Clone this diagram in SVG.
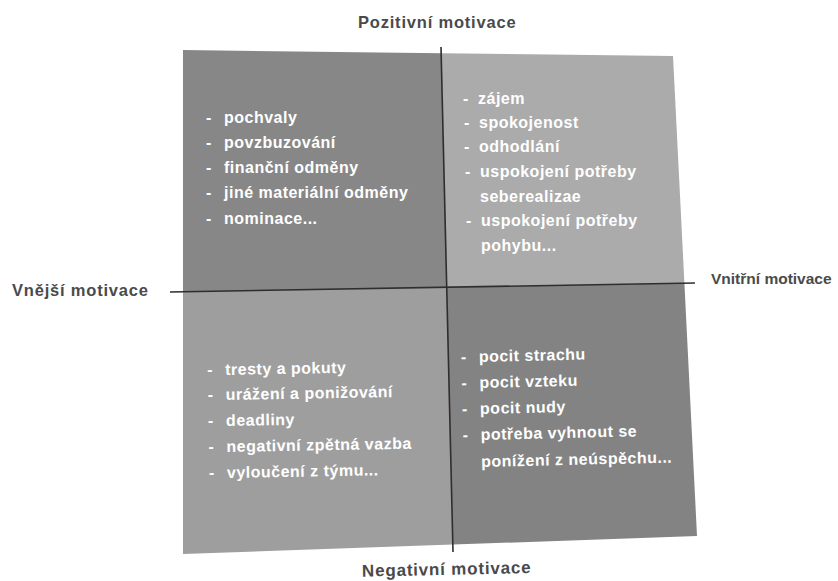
<svg xmlns="http://www.w3.org/2000/svg" width="838" height="581" viewBox="0 0 838 581">
<style>
.q{stroke:none}
.t{font-family:"Liberation Sans",Arial,sans-serif;font-weight:bold;font-size:16px;letter-spacing:0.5px;fill:#ffffff}
.lbl{font-family:"Liberation Sans",Arial,sans-serif;font-weight:bold;font-size:16.5px;letter-spacing:0.8px;fill:#4a4a4a}
.ax{stroke:#2e2e2e;stroke-width:1.6;fill:none}
</style>
<rect width="838" height="581" fill="#ffffff"/>
<g id="q-top-left">
<polygon class="q" fill="#878787" points="183,50 441.3,53.2 446.7,287.3 183,291.8"/>
<g class="t">
<text x="206" y="123">-</text><text x="224" y="123">pochvaly</text>
<text x="206" y="148">-</text><text x="224" y="148">povzbuzování</text>
<text x="206" y="173">-</text><text x="224" y="173">finanční odměny</text>
<text x="206" y="198">-</text><text x="224" y="198">jiné materiální odměny</text>
<text x="206" y="224">-</text><text x="224" y="224">nominace...</text>
</g>
</g>
<g id="q-top-right">
<polygon class="q" fill="#ababab" points="441.3,53.2 673,56 684.4,283.2 446.7,287.3"/>
<g class="t">
<text x="463" y="104">-</text><text x="478" y="104">zájem</text>
<text x="464" y="128">-</text><text x="479" y="128">spokojenost</text>
<text x="464" y="152">-</text><text x="479" y="152">odhodlání</text>
<text x="465" y="177">-</text><text x="480" y="177">uspokojení potřeby</text>
<text x="480" y="202">seberealizae</text>
<text x="466" y="226">-</text><text x="481" y="226">uspokojení potřeby</text>
<text x="481" y="251">pohybu...</text>
</g>
</g>
<g id="q-bottom-left">
<polygon class="q" fill="#9e9e9e" points="183,291.8 446.7,287.3 452.8,544.6 183,554"/>
<g class="t" transform="rotate(-1 226 420)">
<text x="208" y="375">-</text><text x="226" y="375">tresty a pokuty</text>
<text x="208" y="400">-</text><text x="226" y="400">urážení a ponižování</text>
<text x="208" y="426">-</text><text x="226" y="426">deadliny</text>
<text x="208" y="452">-</text><text x="226" y="452">negativní zpětná vazba</text>
<text x="208" y="478">-</text><text x="226" y="478">vyloučení z týmu...</text>
</g>
</g>
<g id="q-bottom-right">
<polygon class="q" fill="#838383" points="446.7,287.3 684.4,283.2 697,536 452.8,544.6"/>
<g class="t" transform="rotate(-1.3 480 410)">
<text x="462" y="362">-</text><text x="480" y="362">pocit strachu</text>
<text x="462" y="388">-</text><text x="480" y="388">pocit vzteku</text>
<text x="462" y="414">-</text><text x="480" y="414">pocit nudy</text>
<text x="462" y="440">-</text><text x="480" y="440">potřeba vyhnout se</text>
<text x="480" y="467">ponížení z neúspěchu...</text>
</g>
</g>
<g id="connectors">
<line class="ax" x1="441" y1="47" x2="453" y2="552"/>
<line class="ax" x1="170" y1="292" x2="695" y2="283"/>
</g>
<g id="label-top"><text class="lbl" x="358" y="28">Pozitivní motivace</text></g>
<g id="label-bottom"><text class="lbl" x="362" y="575" style="font-size:17px" transform="rotate(-1.2 440 570)">Negativní motivace</text></g>
<g id="label-left"><text class="lbl" x="12" y="296">Vnější motivace</text></g>
<g id="label-right"><text class="lbl" x="711" y="284" style="font-size:15.5px;letter-spacing:0">Vnitřní motivace</text></g>
</svg>
